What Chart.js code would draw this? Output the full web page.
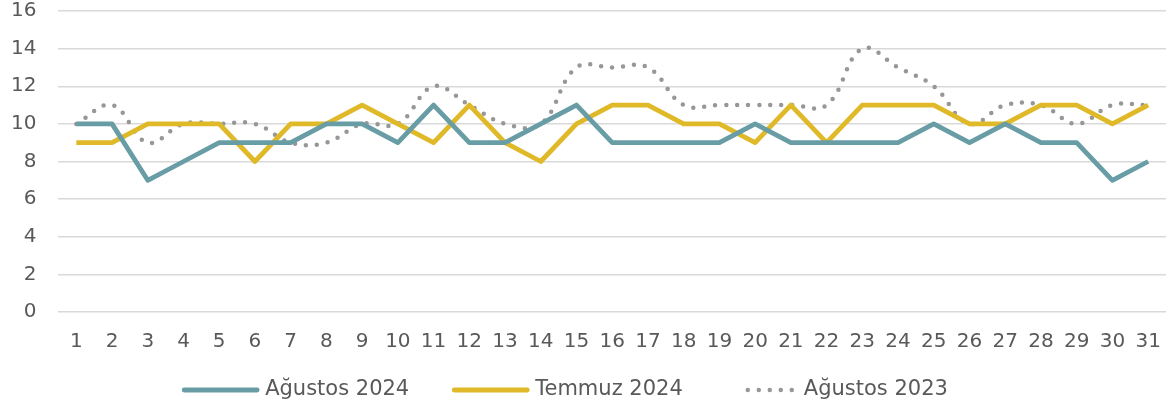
<!DOCTYPE html>
<html>
<head>
<meta charset="utf-8">
<script src="https://cdn.jsdelivr.net/npm/chart.js@4"></script>
<style>
  html, body { margin: 0; padding: 0; background: #fff; }
  #wrap { width: 1171px; height: 414px; }
</style>
</head>
<body>
<div id="wrap"><canvas id="dailyChart"></canvas></div>
<script>
var days = [];
for (var d = 1; d <= 31; d++) days.push(String(d));

var agustos2024 = [10, 10, 7, 8, 9, 9, 9, 10, 10, 9, 11, 9, 9, 10, 11, 9, 9, 9, 9, 10, 9, 9, 9, 9, 10, 9, 10, 9, 9, 7, 8];
var temmuz2024 = [9, 9, 10, 10, 10, 8, 10, 10, 11, 10, 9, 11, 9, 8, 10, 11, 11, 10, 10, 9, 11, 9, 11, 11, 11, 10, 10, 11, 11, 10, 11];
var agustos2023 = [10, 11, 9, 10, 10, 10, 9, 9, 10, 10, 12, 11, 10, 10, 13, 13, 13, 11, 11, 11, 11, 11, 14, 13, 12, 10, 11, 11, 10, 11, 11];

var seriesNames = ["Ağustos 2024", "Temmuz 2024", "Ağustos 2023"];
var yTicks = [0, 2, 4, 6, 8, 10, 12, 14, 16];

var textColor = "#595959";
var fontFamily = "'DejaVu Sans', sans-serif";
var fontSize = 20;

var ctx = document.getElementById("dailyChart").getContext("2d");

var data = {
    labels: days,
    datasets: [
        {
            label: seriesNames[0],
            data: agustos2024,
            borderColor: "#689da6",
            borderWidth: 4.8,
            tension: 0,
            pointRadius: 0,
            borderJoinStyle: "round",
        },
        {
            label: seriesNames[1],
            data: temmuz2024,
            borderColor: "#dfb928",
            borderWidth: 4.8,
            tension: 0,
            pointRadius: 0,
            borderJoinStyle: "round",
        },
        {
            label: seriesNames[2],
            data: agustos2023,
            borderColor: "#979797",
            borderWidth: 4.5,
            borderDash: [0, 11],
            borderCapStyle: "round",
            tension: 0.4,
            pointRadius: 0,
        },
    ],
};

// legend drawn by hand so item spacing can match (line, short gap, text, wide gap)
var lineLegend = {
    id: "lineLegend",
    afterDraw: function (chart) {
        var c = chart.ctx;
        var lineLens = [77, 77, 52];
        var itemGaps = [43, 63];
        var textGap = 6, y = 390;
        c.save();
        c.font = "21px " + fontFamily;
        var widths = chart.data.datasets.map(function (ds) { return c.measureText(ds.label).width; });
        var total = itemGaps[0] + itemGaps[1];
        widths.forEach(function (w, i) { total += lineLens[i] + textGap + w; });
        var x = 565 - total / 2;
        chart.data.datasets.forEach(function (ds, i) {
            c.beginPath();
            c.strokeStyle = ds.borderColor;
            c.lineWidth = ds.borderWidth;
            c.lineCap = "round";
            c.setLineDash(ds.borderDash || []);
            c.moveTo(x + 2, y);
            c.lineTo(x + lineLens[i] - 2, y);
            c.stroke();
            c.setLineDash([]);
            x += lineLens[i] + textGap;
            c.fillStyle = textColor;
            c.textBaseline = "middle";
            c.textAlign = "left";
            c.fillText(ds.label, x, y);
            x += widths[i] + (itemGaps[i] || 0);
        });
        c.restore();
    },
};

var options = {
    responsive: true,
    maintainAspectRatio: false,
    animation: false,
    layout: { padding: { left: -11, right: 5, top: 11, bottom: 42 } },
    plugins: {
        tooltip: { enabled: false },
        legend: { display: false },
    },
    scales: {
        x: {
            offset: true,
            grid: { display: false, drawTicks: false },
            border: { display: false },
            afterFit: function (scale) {
                scale.paddingLeft = 0;
                scale.paddingRight = 0;
            },
            ticks: {
                color: textColor,
                font: { family: fontFamily, size: fontSize },
                padding: 18,
                maxRotation: 0,
                autoSkip: false,
            },
        },
        y: {
            min: 0,
            max: 16,
            afterBuildTicks: function (axis) {
                axis.ticks = yTicks.map(function (v) { return { value: v }; });
            },
            afterFit: function (scale) {
                scale.paddingTop = 0;
                scale.paddingBottom = 0;
            },
            grid: { color: "#d9d9d9", lineWidth: 1.5, drawTicks: false },
            border: { display: false },
            ticks: {
                color: textColor,
                font: { family: fontFamily, size: fontSize },
                padding: 22,
            },
        },
    },
};

var myLineChart = new Chart(ctx, {
    type: "line",
    data: data,
    options: options,
    plugins: [lineLegend],
});
</script>
</body>
</html>
